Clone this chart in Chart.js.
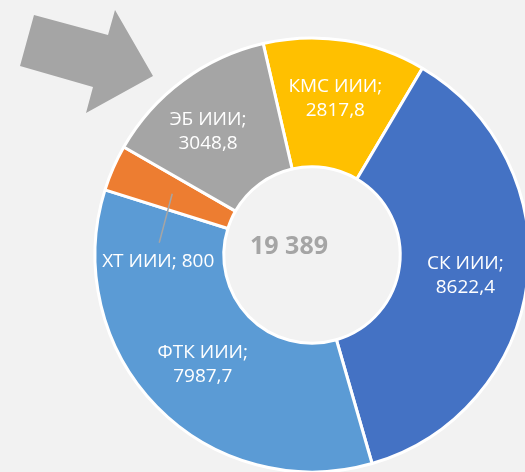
<!DOCTYPE html>
<html>
<head>
<meta charset="utf-8">
<script src="https://cdn.jsdelivr.net/npm/chart.js@4.4.1/dist/chart.umd.min.js"></script>
<style>
    html, body { margin: 0; padding: 0; background: #f2f2f2; overflow: hidden; }
    body { width: 525px; height: 472px; position: relative; }
    .chart-box { position: absolute; left: 0; top: 0; width: 624px; height: 510px; }
</style>
</head>
<body>
<div class="chart-box"><canvas id="donut-example"></canvas></div>
<script>
    // data
    var categories = ['КМС ИИИ', 'СК ИИИ', 'ФТК ИИИ', 'ХТ ИИИ', 'ЭБ ИИИ'];
    var values = [2817.8, 8622.4, 7987.7, 800, 3048.8];
    var valueLabels = ['2817,8', '8622,4', '7987,7', '800', '3048,8'];
    var centerLabel = '19 389';

    var colors = ['#ffc000', '#4472c4', '#5b9bd5', '#ed7d31', '#a5a5a5'];

    // small nudges for label placement, like Excel does
    var labelTweaks = [
        {dx: 0, dy: -6},
        {dx: 2, dy: 1},
        {dx: 0, dy: 3},
        {dx: -14, dy: 68, inline: true, leader: true},
        {dx: -13, dy: -1}
    ];

    var font = '"Open Sans", "DejaVu Sans", sans-serif';

    var decorPlugin = {
        id: 'decor',
        beforeDatasetsDraw: function (chart) {
            // big grey arrow in the top left corner
            var ctx = chart.ctx;
            ctx.save();
            ctx.fillStyle = '#a5a5a5';
            ctx.beginPath();
            ctx.moveTo(34, 15);
            ctx.lineTo(108, 35);
            ctx.lineTo(115, 10);
            ctx.lineTo(153, 76);
            ctx.lineTo(86, 113);
            ctx.lineTo(93, 87);
            ctx.lineTo(20, 66);
            ctx.closePath();
            ctx.fill();
            ctx.restore();
        },
        afterDatasetsDraw: function (chart) {
            var ctx = chart.ctx;
            var meta = chart.getDatasetMeta(0);
            ctx.save();
            ctx.textAlign = 'center';
            ctx.textBaseline = 'middle';
            ctx.font = '19px ' + font;
            meta.data.forEach(function (arc, i) {
                var p = arc.getProps(['x', 'y', 'startAngle', 'endAngle', 'innerRadius', 'outerRadius'], true);
                var mid = (p.startAngle + p.endAngle) / 2;
                var r = (p.innerRadius + p.outerRadius) / 2;
                var cx = p.x + Math.cos(mid) * r;
                var cy = p.y + Math.sin(mid) * r;
                var t = labelTweaks[i];
                var lx = cx + t.dx, ly = cy + t.dy;
                if (t.leader) {
                    ctx.strokeStyle = '#a5a5a5';
                    ctx.lineWidth = 1.5;
                    ctx.beginPath();
                    ctx.moveTo(cx, cy);
                    ctx.lineTo(lx + 1, ly - 19);
                    ctx.stroke();
                }
                ctx.fillStyle = '#ffffff';
                if (t.inline) {
                    ctx.fillText(categories[i] + '; ' + valueLabels[i], lx, ly);
                } else {
                    ctx.fillText(categories[i] + ';', lx, ly - 12);
                    ctx.fillText(valueLabels[i], lx, ly + 12.5);
                }
            });
            // total in the hole
            var c = meta.data[0];
            ctx.font = 'bold 25px ' + font;
            ctx.fillStyle = '#a5a5a5';
            ctx.fillText(centerLabel, c.x - 23, c.y - 8);
            ctx.restore();
        }
    };

    var chartElement = document.getElementById('donut-example');
    var ctx = chartElement.getContext('2d');
    var chart = new Chart(ctx, {
        type: 'doughnut',
        data: {
            labels: categories,
            datasets: [{
                data: values,
                backgroundColor: colors,
                borderColor: '#ffffff',
                borderWidth: 3
            }]
        },
        options: {
            responsive: true, maintainAspectRatio: false,
            animation: false,
            rotation: -13,
            radius: 217,
            cutout: 88,
            layout: {
                padding: {left: 94, right: 94, top: 37, bottom: 37}
            },
            plugins: {
                legend: {display: false},
                tooltip: {enabled: false}
            }
        },
        plugins: [decorPlugin]
    });
</script>
</body>
</html>
